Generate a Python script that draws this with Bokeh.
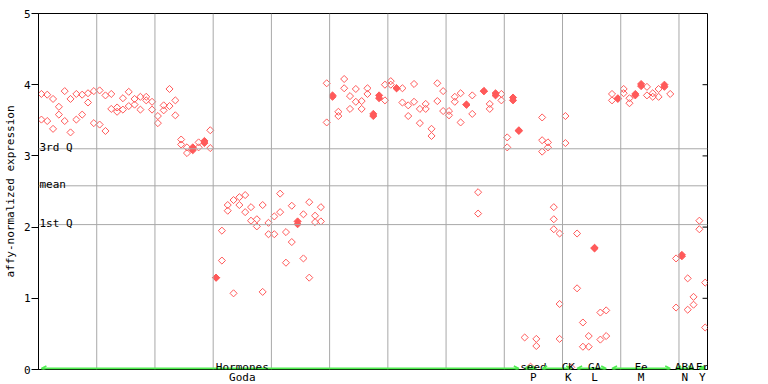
import numpy as np
from bokeh.plotting import figure
from bokeh.models import (Span, Label, FixedTicker, ColumnDataSource,
                          Range1d, Arrow, OpenHead)
from bokeh.embed import file_html
from bokeh.resources import INLINE

# ---- data: expression values per sample column (replicates) ----
goda = [
    [3.87, 3.51], [3.86, 3.49], [3.80, 3.38], [3.69, 3.58], [3.91, 3.49],
    [3.80, 3.33], [3.87, 3.51], [3.86, 3.58], [3.88, 3.75], [3.91, 3.46],
    [3.92, 3.44], [3.85, 3.35], [3.87, 3.66], [3.68, 3.62], [3.81, 3.65],
    [3.90, 3.70], [3.80, 3.72], [3.83, 3.65], [3.83, 3.78], [3.76, 3.65],
    [3.56, 3.46], [3.71, 3.64], [3.94, 3.70], [3.78, 3.57], [3.23, 3.16],
    [3.12, 3.04], [3.12, 3.08], [3.19, 3.12], [3.21, 3.18], [3.36, 3.11],
    [1.29, 1.29], [1.95, 1.53], [2.31, 2.23], [2.38, 1.07], [2.42, 2.31],
    [2.45, 2.21], [2.28, 2.09], [2.11, 2.01], [2.31, 1.09], [2.06, 1.90],
    [2.15, 1.90], [2.47, 2.21], [1.93, 1.50], [2.30, 1.79], [2.08, 2.04],
    [2.18, 1.56], [2.35, 1.29], [2.16, 2.07], [2.28, 2.08], [4.02, 3.47],
    [3.85, 3.83], [3.62, 3.56], [4.08, 3.95], [3.84, 3.66], [3.94, 3.76],
    [3.77, 3.66], [3.95, 3.87], [3.59, 3.56], [3.85, 3.81], [4.00, 3.78],
    [4.05, 4.00], [3.95, 3.95], [3.95, 3.75], [3.71, 3.56], [4.01, 3.76],
    [3.66, 3.46], [3.73, 3.66], [3.38, 3.28], [4.02, 3.77], [3.91, 3.63],
    [3.63, 3.57], [3.83, 3.76], [3.88, 3.47], [3.72, 3.72], [3.85, 3.59],
    [2.49, 2.19], [3.91, 3.91], [3.73, 3.66], [3.88, 3.85], [3.87, 3.78],
    [3.26, 3.12], [3.82, 3.78], [3.36, 3.35],
]
seed = [[0.45], [0.04], [0.43, 0.33]]
ck = [[3.54, 3.22, 3.06], [3.19, 3.12], [2.28, 2.11, 1.97],
      [1.91, 0.92, 0.43], [3.56, 3.18], [0.03]]
ga = [[1.91, 1.14], [0.66, 0.32], [0.47, 0.32], [1.71, 1.70],
      [0.80, 0.42], [0.83, 0.47]]
fe = [[3.87, 3.78], [3.81, 3.80], [3.94, 3.88], [3.81, 3.74], [3.87, 3.85],
      [4.01, 3.98], [3.97, 3.85], [3.88, 3.83], [3.94, 3.83], [4.00, 3.97],
      [3.87]]
aba = [[1.56, 0.87], [1.61, 1.59], [1.28, 0.84], [1.02, 0.91]]
fr = [[2.09, 1.97], [1.22, 0.59]]

group_top = ["Hormones", "seed", "CK", "GA", "Fe", "ABA", "Fr"]
group_bottom = ["Goda", "P", "K", "L", "M", "N", "Y"]
group_data = [goda, seed, ck, ga, fe, aba, fr]

q_levels = [3.10, 2.58, 2.035]
q_names = ["3rd Q", "mean", "1st Q"]
y_ticks = [0, 1, 2, 3, 4, 5]

# ---- styling ----
RED = "#FF5A5A"
GREEN = "#50EE50"
GRAY = "#A8A8A8"
FONT = "DejaVu Sans Mono"
FS = "11px"
W, H = 720, 386
BL, BR, BT = 29, 13, 13

xs, ys, fills = [], [], []
bounds = []
col = 0
for g in group_data:
    start = col
    for vals in g:
        for k, v in enumerate(vals):
            close = any(abs(v - w) < 0.045 for j, w in enumerate(vals) if j != k)
            xs.append(col)
            ys.append(v)
            fills.append(1.0 if close else 0.0)
        col += 1
    bounds.append((start, col - 1))
ncols = col

src = ColumnDataSource(dict(x=xs, y=ys, fa=fills))

x0, x1 = -0.5, ncols - 0.6
p = figure(width=W, height=H, x_range=Range1d(x0, x1), y_range=Range1d(0, 5),
           output_backend="svg", toolbar_location=None,
           min_border_left=BL, min_border_right=BR, min_border_top=BT,
           min_border_bottom=0)
p.background_fill_color = "white"
p.border_fill_color = "white"
p.outline_line_color = "black"
p.outline_line_alpha = 1.0
p.xgrid.visible = False
p.ygrid.visible = False

ya = p.yaxis[0]
ya.ticker = FixedTicker(ticks=y_ticks)
ya.major_tick_out = 7
ya.major_tick_in = 0
ya.minor_tick_line_color = None
ya.axis_line_color = "black"
ya.major_tick_line_color = "black"
ya.major_label_text_font = FONT
ya.major_label_text_font_size = FS
ya.major_label_text_color = "black"
ya.major_label_standoff = 1
ya.axis_label = "affy-normalized expression"
ya.axis_label_text_font = FONT
ya.axis_label_text_font_size = FS
ya.axis_label_text_font_style = "normal"
ya.axis_label_text_color = "black"
ya.axis_label_standoff = 4

label_shift = [-6.5, 0.3, 1.8, 0.7, 0.0, 0.0, 0.2]
centers = [round(((s + e) / 2 + sh) * 2) / 2 for (s, e), sh in zip(bounds, label_shift)]

xa = p.xaxis[0]
xa.ticker = FixedTicker(ticks=centers)
xa.major_label_overrides = {c: t for c, t in zip(centers, group_bottom)}
xa.major_tick_line_color = None
xa.minor_tick_line_color = None
xa.major_tick_out = 0
xa.major_tick_in = 0
xa.axis_line_color = "black"
xa.major_label_standoff = 1
xa.major_label_text_font = FONT
xa.major_label_text_font_size = FS
xa.major_label_text_color = "black"

frame_w = W - BL - BR
tick_len = 5 * (x1 - x0) / frame_w
p.segment(x0=[x1 - tick_len] * len(y_ticks), y0=y_ticks,
          x1=[x1] * len(y_ticks), y1=y_ticks, line_color="black", line_width=1)

for gx in np.arange(9.5, ncols, 10):
    p.add_layout(Span(location=gx, dimension="height", line_color=GRAY, line_width=1))

for lv, nm in zip(q_levels, q_names):
    p.add_layout(Span(location=lv, dimension="width", line_color=GRAY, line_width=1))
    p.add_layout(Label(x=x0, y=lv, text=nm, x_offset=1, y_offset=1,
                       text_font=FONT, text_font_size=FS, text_color="black",
                       text_baseline="alphabetic", text_align="left"))

p.scatter("x", "y", source=src, marker="square", angle=np.pi / 4, size=5,
          line_color=RED, line_width=1, fill_color=RED, fill_alpha="fa")

for (s, e), top, cx in zip(bounds, group_top, centers):
    p.add_layout(Arrow(x_start=s, y_start=0.014, x_end=e, y_end=0.014,
                       line_color=GREEN, line_width=2,
                       start=OpenHead(size=5, line_color=GREEN, line_width=1.5),
                       end=OpenHead(size=5, line_color=GREEN, line_width=1.5)))
    p.add_layout(Label(x=cx, y=0, text=top, y_offset=2, text_font=FONT,
                       text_font_size=FS, text_align="center",
                       text_baseline="alphabetic", text_color="black"))

open("out.html", "w").write(file_html(p, INLINE))
